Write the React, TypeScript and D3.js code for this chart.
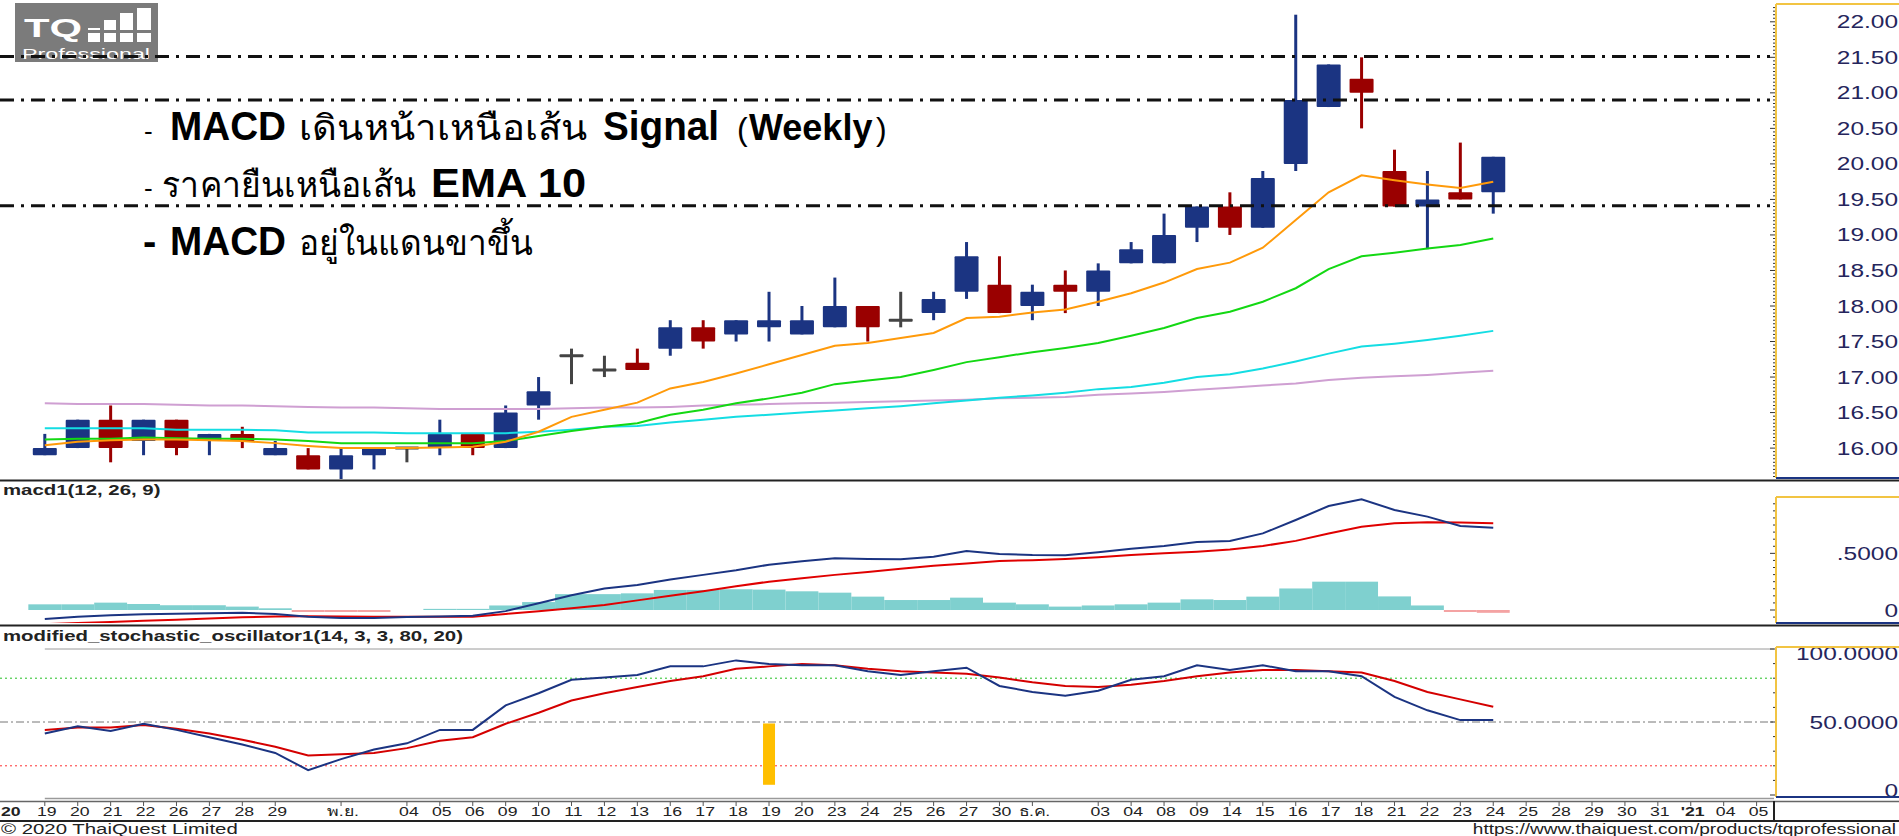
import { useEffect, useRef } from 'react';
import * as d3 from 'd3';

// one slot per trading day, 19 Oct 2020 .. 24 Dec 2020, then empty future days
const slotLabels = [
  '19', '20', '21', '22', '26', '27', '28', '29', '', 'พ.ย.', '', '04', '05', '06', '09', '10', '11', '12', '13',
  '16', '17', '18', '19', '20', '23', '24', '25', '26', '27', '30', 'ธ.ค.', '', '03', '04', '08', '09', '14', '15',
  '16', '17', '18', '21', '22', '23', '24', '25', '28', '29', '30', '31', "'21", '04', '05',
];

const opens = [15.9, 16.0, 16.4, 16.1, 16.4, 16.1, 16.2, 15.9, 15.9, 15.7, 15.9, 16.0, 16.0, 16.2, 16.0, 16.6, 17.3, 17.1, 17.2, 17.4, 17.7, 17.6, 17.7, 17.6, 17.7, 18.0, 17.8, 17.9, 18.2, 18.3, 18.0, 18.3, 18.2, 18.6, 18.6, 19.1, 19.4, 19.1, 20.0, 20.8, 21.2, 19.9, 19.4, 19.6, 19.6];
const highs = [16.2, 16.4, 16.6, 16.4, 16.4, 16.2, 16.3, 16.1, 16.0, 16.0, 16.0, 16.0, 16.4, 16.2, 16.6, 17.0, 17.4, 17.3, 17.4, 17.8, 17.8, 17.8, 18.2, 18.0, 18.4, 18.0, 18.2, 18.2, 18.9, 18.7, 18.3, 18.5, 18.6, 18.9, 19.3, 19.4, 19.6, 19.9, 22.1, 21.4, 21.5, 20.2, 19.9, 20.3, 20.1];
const lows = [15.9, 16.0, 15.8, 15.9, 15.9, 15.9, 16.0, 15.9, 15.7, 15.55, 15.7, 15.8, 15.9, 15.9, 16.0, 16.4, 16.9, 17.0, 17.1, 17.3, 17.4, 17.5, 17.5, 17.6, 17.7, 17.5, 17.7, 17.8, 18.1, 17.9, 17.8, 17.9, 18.0, 18.6, 18.6, 18.9, 19.0, 19.1, 19.9, 20.8, 20.5, 19.4, 18.8, 19.5, 19.3];
const closes = [16.0, 16.4, 16.0, 16.4, 16.0, 16.2, 16.1, 16.0, 15.7, 15.9, 16.0, 16.0, 16.2, 16.0, 16.5, 16.8, 17.3, 17.1, 17.1, 17.7, 17.5, 17.8, 17.8, 17.8, 18.0, 17.7, 17.8, 18.1, 18.7, 17.9, 18.2, 18.2, 18.5, 18.8, 19.0, 19.4, 19.1, 19.8, 20.9, 21.4, 21.0, 19.4, 19.5, 19.5, 20.1];

const emaOrange = [16.04, 16.09, 16.11, 16.12, 16.12, 16.11, 16.10, 16.07, 16.03, 16.0, 16.0, 16.0, 16.01, 16.02, 16.09, 16.23, 16.44, 16.54, 16.64, 16.84, 16.93, 17.05, 17.18, 17.31, 17.44, 17.48, 17.55, 17.62, 17.83, 17.85, 17.91, 17.95, 18.06, 18.18, 18.33, 18.52, 18.61, 18.82, 19.21, 19.6, 19.84, 19.77, 19.71, 19.66, 19.75];
const emaGreen = [16.12, 16.13, 16.13, 16.15, 16.14, 16.13, 16.13, 16.12, 16.1, 16.07, 16.07, 16.07, 16.07, 16.07, 16.1, 16.17, 16.24, 16.3, 16.35, 16.47, 16.54, 16.63, 16.7, 16.78, 16.9, 16.95, 17.0, 17.1, 17.21, 17.28, 17.35, 17.41, 17.48, 17.58, 17.69, 17.83, 17.92, 18.06, 18.25, 18.52, 18.7, 18.75, 18.81, 18.86, 18.95];
const emaCyan = [16.28, 16.28, 16.28, 16.28, 16.26, 16.26, 16.26, 16.25, 16.22, 16.22, 16.22, 16.21, 16.21, 16.21, 16.21, 16.23, 16.26, 16.3, 16.31, 16.36, 16.4, 16.44, 16.47, 16.5, 16.53, 16.56, 16.59, 16.63, 16.67, 16.71, 16.74, 16.78, 16.83, 16.86, 16.92, 17.0, 17.04, 17.12, 17.22, 17.33, 17.43, 17.47, 17.52, 17.58, 17.65];
const emaPlum = [16.63, 16.62, 16.62, 16.62, 16.61, 16.6, 16.6, 16.59, 16.58, 16.57, 16.57, 16.56, 16.55, 16.55, 16.55, 16.55, 16.56, 16.57, 16.57, 16.58, 16.6, 16.61, 16.62, 16.63, 16.64, 16.65, 16.66, 16.67, 16.68, 16.7, 16.71, 16.72, 16.75, 16.77, 16.79, 16.82, 16.85, 16.88, 16.91, 16.96, 16.99, 17.01, 17.03, 17.06, 17.09];

const supportLevels = [21.51, 20.9, 19.41];
const priceTicks = [16, 16.5, 17, 17.5, 18, 18.5, 19, 19.5, 20, 20.5, 21, 21.5, 22];

const macdValues = [-0.08, -0.06, -0.047, -0.038, -0.032, -0.028, -0.025, -0.035, -0.06, -0.07, -0.07, -0.062, -0.058, -0.05, -0.01, 0.06, 0.13, 0.19, 0.22, 0.27, 0.31, 0.35, 0.4, 0.43, 0.456, 0.45, 0.447, 0.47, 0.52, 0.494, 0.485, 0.483, 0.51, 0.54, 0.565, 0.6, 0.61, 0.676, 0.794, 0.918, 0.977, 0.883, 0.824, 0.741, 0.726];
const signalValues = [-0.125, -0.115, -0.105, -0.095, -0.085, -0.075, -0.065, -0.058, -0.056, -0.058, -0.06, -0.06, -0.06, -0.06, -0.035, -0.01, 0.015, 0.045, 0.085, 0.125, 0.165, 0.21, 0.25, 0.28, 0.31, 0.335, 0.365, 0.39, 0.41, 0.432, 0.44, 0.45, 0.465, 0.485, 0.5, 0.515, 0.535, 0.565, 0.61, 0.676, 0.735, 0.765, 0.774, 0.772, 0.765];
const histValues = [0.05, 0.05, 0.065, 0.053, 0.042, 0.042, 0.03, 0.015, -0.006, -0.006, -0.006, 0, 0.01, 0.01, 0.04, 0.07, 0.14, 0.14, 0.147, 0.177, 0.177, 0.183, 0.18, 0.165, 0.153, 0.118, 0.088, 0.088, 0.109, 0.065, 0.05, 0.03, 0.04, 0.05, 0.065, 0.094, 0.088, 0.118, 0.19, 0.25, 0.25, 0.12, 0.04, -0.015, -0.025];
const macdTicks = [0, 0.5];
const macdTickLabels = ['0', '.5000'];

const stochK = [42.1, 47.1, 43.8, 48.8, 44.6, 39.6, 34.6, 28.8, 17.0, 24.6, 31.2, 35.4, 44.6, 44.6, 61.4, 69.7, 78.9, 80.5, 82.2, 88.1, 88.1, 92.2, 89.7, 88.9, 88.9, 84.7, 82.2, 84.7, 87.2, 74.7, 70.6, 68.0, 71.4, 78.9, 81.4, 88.9, 85.6, 88.9, 84.7, 84.7, 81.4, 67.2, 58.0, 51.3, 51.3];
const stochD = [44.6, 46.3, 46.3, 48.0, 45.4, 42.1, 37.9, 33.0, 27.1, 27.9, 28.8, 32.1, 37.1, 39.6, 48.8, 56.3, 64.7, 69.7, 73.9, 78.1, 81.4, 86.4, 88.1, 89.7, 88.9, 86.4, 84.7, 83.9, 83.0, 80.5, 77.2, 74.7, 73.9, 75.5, 78.1, 81.4, 83.9, 85.6, 85.6, 84.7, 83.9, 78.1, 70.6, 65.5, 60.5];
const stochTicks = [0, 50, 100];
const stochTickLabels = ['0', '50.0000', '100.0000'];
const stochUpper = 80;
const stochMid = 50;
const stochLower = 20;
const markerSlot = 22;
const markerRange = [7, 49];

const W = 1899;
const H = 836;
const PLOT_R = 1774;
const AXIS_X = 1776;
const SX = 1.36; // the screenshot's own text is stretched horizontally
const FONT = '"Liberation Sans", Arial, sans-serif';
const UP = '#1b3482';
const DOWN = '#9a0000';
const FLAT = '#444444';

export default function App() {
  const svgRef = useRef<SVGSVGElement>(null);

  useEffect(() => {
    if (!svgRef.current) return;
    document.body.style.margin = '0';

    const svg = d3.select(svgRef.current);
    svg.selectAll('*').remove();

    const x = d3.scaleLinear().domain([0, slotLabels.length - 1]).range([44.8, 1756.6]);
    const slotW = x(1) - x(0);
    const yPrice = d3.scaleLinear().domain([16, 22]).range([448.1, 21.8]);
    const yMacd = d3.scaleLinear().domain([0, 1]).range([610, 496.7]);
    const yStoch = d3.scaleLinear().domain([0, 100]).range([795, 649]);

    svg.append('rect').attr('width', W).attr('height', H).attr('fill', '#fff');

    const defs = svg.append('defs');
    const addClip = (id: string, y0: number, y1: number) => {
      defs.append('clipPath').attr('id', id).append('rect')
        .attr('x', 0).attr('y', y0).attr('width', PLOT_R).attr('height', y1 - y0);
    };
    addClip('clip-main', 0, 479);
    addClip('clip-macd', 482, 623);
    addClip('clip-stoch', 627, 798);

    // text from the screenshot, stretched sideways
    const stext = (g: any, tx: number, ty: number, str: string, size: number, anchor = 'start', weight = 'normal', fill = '#222') =>
      g.append('text')
        .attr('transform', `translate(${tx},${ty}) scale(${SX},1)`)
        .attr('text-anchor', anchor)
        .style('font-family', FONT)
        .style('font-size', `${size}px`)
        .style('font-weight', weight)
        .style('fill', fill)
        .text(str);

    // logo (drawn first: the level lines run over it)
    const logo = svg.append('g');
    logo.append('rect').attr('x', 15).attr('y', 3).attr('width', 143).attr('height', 59).attr('fill', '#7b7b7b');
    logo.append('text').attr('x', 24).attr('y', 37).attr('textLength', 58).attr('lengthAdjust', 'spacingAndGlyphs')
      .style('font-family', FONT).style('font-size', '25px').style('font-weight', 'bold').style('fill', '#fff').text('TQ');
    [[88, 28, 12, 14], [104, 20, 12, 22], [120, 13, 13, 29], [137, 8, 14, 34]].forEach(([bx, by, bw, bh]) => {
      logo.append('rect').attr('x', bx).attr('y', by).attr('width', bw).attr('height', bh).attr('fill', '#fff');
    });
    logo.append('rect').attr('x', 86).attr('y', 30).attr('width', 70).attr('height', 3).attr('fill', '#7b7b7b');
    logo.append('text').attr('x', 22).attr('y', 59).attr('textLength', 128).attr('lengthAdjust', 'spacingAndGlyphs')
      .style('font-family', FONT).style('font-size', '14px').style('fill', '#fff').text('Professional');

    // ---------- price panel ----------
    const candles = opens.map((o, i) => ({ i, o, h: highs[i], l: lows[i], c: closes[i] }));
    const candleColor = (d: any) => (d.c > d.o ? UP : d.c < d.o ? DOWN : FLAT);
    const gMain = svg.append('g').attr('clip-path', 'url(#clip-main)');

    gMain.selectAll('line.wick')
      .data(candles)
      .join('line')
      .attr('class', 'wick')
      .attr('x1', d => x(d.i))
      .attr('x2', d => x(d.i))
      .attr('y1', d => yPrice(d.h))
      .attr('y2', d => yPrice(d.l))
      .attr('stroke', candleColor)
      .attr('stroke-width', 3);

    gMain.selectAll('rect.body')
      .data(candles)
      .join('rect')
      .attr('class', 'body')
      .attr('x', d => x(d.i) - 12)
      .attr('width', 24)
      .attr('y', d => (d.o === d.c ? yPrice(d.o) - 1.5 : yPrice(Math.max(d.o, d.c))))
      .attr('height', d => Math.max(3, Math.abs(yPrice(d.o) - yPrice(d.c))))
      .attr('rx', 1)
      .attr('fill', candleColor);

    const priceLine = d3.line<number>().x((_, i) => x(i)).y(d => yPrice(d));
    const maSeries = [
      { values: emaPlum, color: '#cf9fd2' },
      { values: emaCyan, color: '#14dde3' },
      { values: emaGreen, color: '#13d813' },
      { values: emaOrange, color: '#ff9a0a' },
    ];
    maSeries.forEach(s => {
      gMain.append('path')
        .datum(s.values)
        .attr('d', priceLine)
        .attr('fill', 'none')
        .attr('stroke', s.color)
        .attr('stroke-width', 2);
    });

    gMain.selectAll('line.level')
      .data(supportLevels)
      .join('line')
      .attr('class', 'level')
      .attr('x1', 0)
      .attr('x2', 1770)
      .attr('y1', d => yPrice(d))
      .attr('y2', d => yPrice(d))
      .attr('stroke', '#111')
      .attr('stroke-width', 3)
      .attr('stroke-dasharray', '14,7,3,7');

    // annotation (overlay text), one text element per run
    const note = svg.append('g').style('font-family', FONT).style('fill', '#000');
    const addRun = (tx: number, ty: number, str: string, size: number, bold: boolean, len?: number) => {
      const t = note.append('text').attr('x', tx).attr('y', ty)
        .style('font-size', `${size}px`).style('font-weight', bold ? 'bold' : 'normal').text(str);
      if (len) t.attr('textLength', len).attr('lengthAdjust', 'spacingAndGlyphs');
    };
    addRun(144, 140, '-', 26, false);
    addRun(170, 140, 'MACD', 40, true, 116);
    addRun(299, 140, 'เดินหน้าเหนือเส้น', 35, false, 288);
    addRun(603, 140, 'Signal', 40, true, 116);
    addRun(737, 140, '(', 32, false);
    addRun(749, 140, 'Weekly', 36, true);
    addRun(876, 140, ')', 32, false);
    addRun(144, 197, '-', 26, false);
    addRun(162, 197, 'ราคายืนเหนือเส้น', 35, false, 254);
    addRun(431, 197, 'EMA 10', 40, true, 155);
    addRun(143, 255, '-', 40, true);
    addRun(170, 255, 'MACD', 40, true, 116);
    addRun(299, 255, 'อยู่ในแดนขาขึ้น', 35, false, 234);

    // price axis
    const axMain = svg.append('g');
    d3.range(15.6, 22.25, 0.05).forEach(v => {
      const y = yPrice(v);
      if (y < 5 || y > 477) return;
      const major = Math.abs(v * 2 - Math.round(v * 2)) < 1e-6;
      axMain.append('line').attr('x1', AXIS_X - (major ? 6 : 3)).attr('x2', AXIS_X).attr('y1', y).attr('y2', y)
        .attr('stroke', '#333').attr('stroke-width', 1);
    });
    priceTicks.forEach(v => stext(axMain, 1898, yPrice(v) + 6.5, d3.format('.2f')(v), 18, 'end', 'normal', '#25255c'));
    axMain.append('line').attr('x1', AXIS_X).attr('x2', AXIS_X).attr('y1', 4).attr('y2', 478).attr('stroke', '#f2c443').attr('stroke-width', 2);
    axMain.append('line').attr('x1', AXIS_X).attr('x2', W).attr('y1', 4).attr('y2', 4).attr('stroke', '#f2c443').attr('stroke-width', 2);
    axMain.append('line').attr('x1', AXIS_X).attr('x2', W).attr('y1', 478).attr('y2', 478).attr('stroke', UP).attr('stroke-width', 2);

    // panel separators
    [480.5, 625.5].forEach(y => {
      svg.append('line').attr('x1', 0).attr('x2', W).attr('y1', y).attr('y2', y).attr('stroke', '#222').attr('stroke-width', 2);
    });

    // ---------- MACD panel ----------
    const gMacd = svg.append('g').attr('clip-path', 'url(#clip-macd)');
    gMacd.selectAll('rect.hist')
      .data(histValues)
      .join('rect')
      .attr('class', 'hist')
      .attr('x', (_, i) => x(i) - slotW / 2)
      .attr('width', slotW)
      .attr('y', d => Math.min(yMacd(d), yMacd(0)))
      .attr('height', d => Math.max(d < 0 ? 2 : 0, Math.abs(yMacd(d) - yMacd(0))))
      .attr('fill', d => (d < 0 ? '#f4a3a3' : '#7fd0cf'));

    const macdPath = d3.line<number>().x((_, i) => x(i)).y(d => yMacd(d));
    gMacd.append('path').datum(signalValues).attr('d', macdPath).attr('fill', 'none').attr('stroke', '#e00000').attr('stroke-width', 2);
    gMacd.append('path').datum(macdValues).attr('d', macdPath).attr('fill', 'none').attr('stroke', UP).attr('stroke-width', 2);

    stext(svg, 3, 495, 'macd1(12, 26, 9)', 15, 'start', 'bold', '#222');

    const axMacd = svg.append('g');
    d3.range(-0.125, 1.01, 0.0625).forEach(v => {
      const y = yMacd(v);
      if (y < 497 || y > 622) return;
      const major = Math.abs(v * 2 - Math.round(v * 2)) < 1e-6;
      axMacd.append('line').attr('x1', AXIS_X - (major ? 6 : 3)).attr('x2', AXIS_X).attr('y1', y).attr('y2', y)
        .attr('stroke', '#333').attr('stroke-width', 1);
    });
    macdTicks.forEach((v, i) => stext(axMacd, 1898, yMacd(v) + 6.5, macdTickLabels[i], 18, 'end', 'normal', '#25255c'));
    axMacd.append('line').attr('x1', AXIS_X).attr('x2', AXIS_X).attr('y1', 497).attr('y2', 623).attr('stroke', '#f2c443').attr('stroke-width', 2);
    axMacd.append('line').attr('x1', AXIS_X).attr('x2', W).attr('y1', 497).attr('y2', 497).attr('stroke', '#f2c443').attr('stroke-width', 2);
    axMacd.append('line').attr('x1', AXIS_X).attr('x2', W).attr('y1', 623).attr('y2', 623).attr('stroke', UP).attr('stroke-width', 2);

    // ---------- stochastic panel ----------
    const gSto = svg.append('g').attr('clip-path', 'url(#clip-stoch)');
    gSto.append('line').attr('x1', x(0)).attr('x2', PLOT_R).attr('y1', yStoch(100)).attr('y2', yStoch(100))
      .attr('stroke', '#9a9a9a').attr('stroke-width', 1);
    [
      { v: stochUpper, color: '#22c022', dash: '2,3' },
      { v: stochMid, color: '#777', dash: '8,3,2,3' },
      { v: stochLower, color: '#ff3030', dash: '2,3' },
    ].forEach(l => {
      gSto.append('line').attr('x1', 0).attr('x2', PLOT_R).attr('y1', yStoch(l.v)).attr('y2', yStoch(l.v))
        .attr('stroke', l.color).attr('stroke-width', 1).attr('stroke-dasharray', l.dash);
    });
    const stoPath = d3.line<number>().x((_, i) => x(i)).y(d => yStoch(d));
    gSto.append('path').datum(stochD).attr('d', stoPath).attr('fill', 'none').attr('stroke', '#d40000').attr('stroke-width', 2);
    gSto.append('path').datum(stochK).attr('d', stoPath).attr('fill', 'none').attr('stroke', UP).attr('stroke-width', 2);
    gSto.append('rect')
      .attr('x', x(markerSlot) - 6)
      .attr('width', 12)
      .attr('y', yStoch(markerRange[1]))
      .attr('height', yStoch(markerRange[0]) - yStoch(markerRange[1]))
      .attr('fill', '#ffbf00');

    stext(svg, 3, 641, 'modified_stochastic_oscillator1(14, 3, 3, 80, 20)', 15, 'start', 'bold', '#222');

    const axSto = svg.append('g');
    d3.range(0, 101, 10).forEach(v => {
      const y = yStoch(v);
      axSto.append('line').attr('x1', AXIS_X - (v % 50 === 0 ? 6 : 3)).attr('x2', AXIS_X).attr('y1', y).attr('y2', y)
        .attr('stroke', '#333').attr('stroke-width', 1);
    });
    stochTicks.forEach((v, i) => {
      const cy = Math.max(653, Math.min(yStoch(v), 790));
      stext(axSto, 1898, cy + 6.5, stochTickLabels[i], 18, 'end', 'normal', '#25255c');
    });
    axSto.append('line').attr('x1', AXIS_X).attr('x2', AXIS_X).attr('y1', 647).attr('y2', 797).attr('stroke', '#f2c443').attr('stroke-width', 2);
    axSto.append('line').attr('x1', AXIS_X).attr('x2', W).attr('y1', 647).attr('y2', 647).attr('stroke', '#f2c443').attr('stroke-width', 2);
    axSto.append('line').attr('x1', AXIS_X).attr('x2', W).attr('y1', 797).attr('y2', 797).attr('stroke', UP).attr('stroke-width', 2);

    // ---------- date axis ----------
    const gx = svg.append('g');
    gx.append('line').attr('x1', x(0)).attr('x2', PLOT_R).attr('y1', 798.5).attr('y2', 798.5).attr('stroke', '#9a9a9a').attr('stroke-width', 1.5);
    gx.append('line').attr('x1', 0).attr('x2', W).attr('y1', 801.5).attr('y2', 801.5).attr('stroke', '#666').attr('stroke-width', 1.5);
    gx.append('line').attr('x1', 0).attr('x2', W).attr('y1', 821).attr('y2', 821).attr('stroke', '#222').attr('stroke-width', 2);
    gx.append('line').attr('x1', PLOT_R).attr('x2', PLOT_R).attr('y1', 801).attr('y2', 822).attr('stroke', '#222').attr('stroke-width', 2);
    slotLabels.forEach((lab, i) => {
      if (!lab) return;
      gx.append('line').attr('x1', x(i)).attr('x2', x(i)).attr('y1', 802).attr('y2', 806).attr('stroke', '#555').attr('stroke-width', 1);
      stext(gx, x(i) + 2, 816, lab, 13, 'middle', lab.startsWith("'") ? 'bold' : 'normal', '#222');
    });
    stext(gx, 1, 816, '20', 13, 'start', 'bold', '#222');

    // footer
    stext(svg, 1, 834, '© 2020 ThaiQuest Limited', 15, 'start', 'normal', '#222');
    stext(svg, 1896, 834, 'https://www.thaiquest.com/products/tqprofessional', 14, 'end', 'normal', '#222');
  }, []);

  return <svg ref={svgRef} width={W} height={H} style={{ display: 'block' }} />;
}
